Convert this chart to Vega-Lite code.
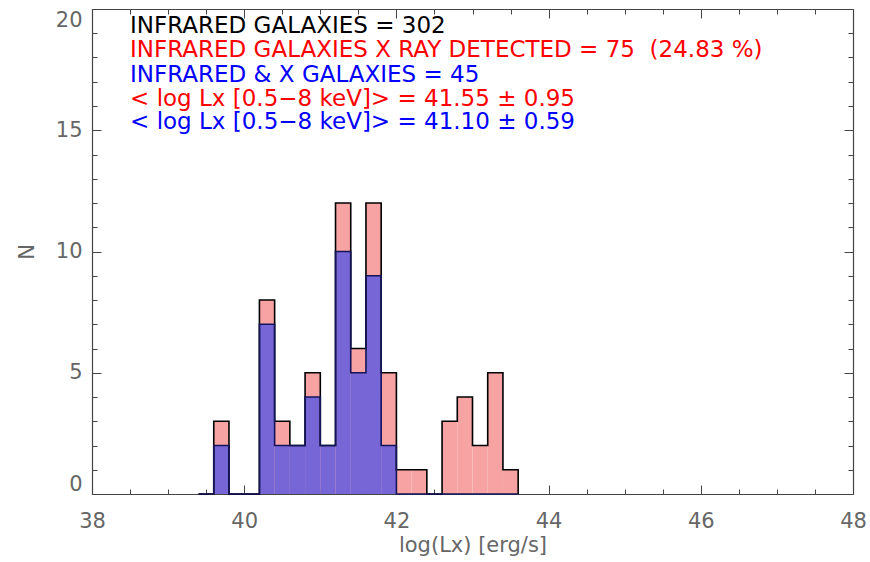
{
  "$schema": "https://vega.github.io/schema/vega-lite/v6.json",
  "width": 761,
  "height": 485,
  "autosize": {"type": "none"},
  "padding": {"left": 92, "top": 9, "right": 17, "bottom": 68},
  "background": "white",
  "config": {
    "view": {"stroke": null},
    "axis": {"grid": false, "domainColor": "#444444", "tickColor": "#444444", "labelColor": "#666666", "titleColor": "#666666", "labelFont": "DejaVu Sans", "titleFont": "DejaVu Sans", "labelFontSize": 21, "titleFontSize": 21, "titleFontWeight": "normal", "domainWidth": 1.2, "tickWidth": 1}
  },
  "data": {"values": [
    {"lo": 39.4, "hi": 39.6, "all": 0, "ir": 0},
    {"lo": 39.6, "hi": 39.8, "all": 3, "ir": 2},
    {"lo": 39.8, "hi": 40.0, "all": 0, "ir": 0},
    {"lo": 40.0, "hi": 40.2, "all": 0, "ir": 0},
    {"lo": 40.2, "hi": 40.4, "all": 8, "ir": 7},
    {"lo": 40.4, "hi": 40.6, "all": 3, "ir": 2},
    {"lo": 40.6, "hi": 40.8, "all": 2, "ir": 2},
    {"lo": 40.8, "hi": 41.0, "all": 5, "ir": 4},
    {"lo": 41.0, "hi": 41.2, "all": 2, "ir": 2},
    {"lo": 41.2, "hi": 41.4, "all": 12, "ir": 10},
    {"lo": 41.4, "hi": 41.6, "all": 6, "ir": 5},
    {"lo": 41.6, "hi": 41.8, "all": 12, "ir": 9},
    {"lo": 41.8, "hi": 42.0, "all": 5, "ir": 2},
    {"lo": 42.0, "hi": 42.2, "all": 1, "ir": 0},
    {"lo": 42.2, "hi": 42.4, "all": 1, "ir": 0},
    {"lo": 42.4, "hi": 42.6, "all": 0, "ir": 0},
    {"lo": 42.6, "hi": 42.8, "all": 3, "ir": 0},
    {"lo": 42.8, "hi": 43.0, "all": 4, "ir": 0},
    {"lo": 43.0, "hi": 43.2, "all": 2, "ir": 0},
    {"lo": 43.2, "hi": 43.4, "all": 5, "ir": 0},
    {"lo": 43.4, "hi": 43.6, "all": 1, "ir": 0},
    {"lo": 43.6, "hi": 43.8, "all": 0, "ir": 0}
  ]},
  "resolve": {"axis": {"x": "independent", "y": "independent"}},
  "layer": [
    {
      "mark": {"type": "rect", "fill": "#f7a3a3", "stroke": null},
      "encoding": {
        "x": {"field": "lo", "type": "quantitative", "scale": {"domain": [38, 48], "nice": false, "zero": false},
              "axis": {"orient": "bottom", "values": [38, 40, 42, 44, 46, 48], "tickSize": -9, "labelPadding": 25, "title": "log(Lx) [erg/s]", "titlePadding": 3, "labelFlush": false}},
        "x2": {"field": "hi"},
        "y": {"field": "all", "type": "quantitative", "scale": {"domain": [0, 20], "nice": false},
              "axis": {"orient": "left", "values": [0, 5, 10, 15, 20], "tickSize": -9, "labelPadding": 19, "title": "N", "titlePadding": 18, "labelFlush": true}},
        "y2": {"datum": 0}
      }
    },
    {
      "mark": {"type": "rect", "fill": "#7766d6", "stroke": null},
      "encoding": {
        "x": {"field": "lo", "type": "quantitative", "axis": {"orient": "top", "values": [38, 40, 42, 44, 46, 48], "tickSize": -9, "labels": false, "title": null}},
        "x2": {"field": "hi"},
        "y": {"field": "ir", "type": "quantitative", "axis": {"orient": "right", "values": [0, 5, 10, 15, 20], "tickSize": -9, "labels": false, "title": null}},
        "y2": {"datum": 0}
      }
    },
    {
      "mark": {"type": "line", "interpolate": "step-after", "color": "#000000", "strokeWidth": 1.6},
      "encoding": {
        "x": {"field": "lo", "type": "quantitative", "axis": {"orient": "bottom", "values": [38.5, 39, 39.5, 40.5, 41, 41.5, 42.5, 43, 43.5, 44.5, 45, 45.5, 46.5, 47, 47.5], "tickSize": -5, "labels": false, "title": null, "domain": false}},
        "y": {"field": "all", "type": "quantitative", "axis": {"orient": "left", "values": [1, 2, 3, 4, 6, 7, 8, 9, 11, 12, 13, 14, 16, 17, 18, 19], "tickSize": -5, "labels": false, "title": null, "domain": false}}
      }
    },
    {
      "mark": {"type": "line", "interpolate": "step-after", "color": "#14145a", "strokeWidth": 1.6},
      "encoding": {
        "x": {"field": "lo", "type": "quantitative", "axis": {"orient": "top", "values": [38.5, 39, 39.5, 40.5, 41, 41.5, 42.5, 43, 43.5, 44.5, 45, 45.5, 46.5, 47, 47.5], "tickSize": -5, "labels": false, "title": null, "domain": false}},
        "y": {"field": "ir", "type": "quantitative", "axis": {"orient": "right", "values": [1, 2, 3, 4, 6, 7, 8, 9, 11, 12, 13, 14, 16, 17, 18, 19], "tickSize": -5, "labels": false, "title": null, "domain": false}}
      }
    },
    {
      "data": {"values": [{"label": "INFRARED GALAXIES = 302"}]},
      "mark": {"type": "text", "align": "left", "baseline": "middle", "font": "DejaVu Sans", "fontSize": 23, "color": "#000000"},
      "encoding": {"x": {"datum": 38.5, "type": "quantitative", "axis": null}, "y": {"datum": 19.28, "type": "quantitative", "axis": null}, "text": {"field": "label"}}
    },
    {
      "data": {"values": [{"label": "INFRARED GALAXIES X RAY DETECTED = 75\u00a0\u00a0(24.83 %)"}]},
      "mark": {"type": "text", "align": "left", "baseline": "middle", "font": "DejaVu Sans", "fontSize": 23, "color": "#ff0000"},
      "encoding": {"x": {"datum": 38.5, "type": "quantitative", "axis": null}, "y": {"datum": 18.29, "type": "quantitative", "axis": null}, "text": {"field": "label"}}
    },
    {
      "data": {"values": [{"label": "INFRARED & X GALAXIES = 45"}]},
      "mark": {"type": "text", "align": "left", "baseline": "middle", "font": "DejaVu Sans", "fontSize": 23, "color": "#0000ff"},
      "encoding": {"x": {"datum": 38.5, "type": "quantitative", "axis": null}, "y": {"datum": 17.29, "type": "quantitative", "axis": null}, "text": {"field": "label"}}
    },
    {
      "data": {"values": [{"label": "< log Lx [0.5−8 keV]> = 41.55 ± 0.95"}]},
      "mark": {"type": "text", "align": "left", "baseline": "middle", "font": "DejaVu Sans", "fontSize": 23, "color": "#ff0000"},
      "encoding": {"x": {"datum": 38.5, "type": "quantitative", "axis": null}, "y": {"datum": 16.3, "type": "quantitative", "axis": null}, "text": {"field": "label"}}
    },
    {
      "data": {"values": [{"label": "< log Lx [0.5−8 keV]> = 41.10 ± 0.59"}]},
      "mark": {"type": "text", "align": "left", "baseline": "middle", "font": "DejaVu Sans", "fontSize": 23, "color": "#0000ff"},
      "encoding": {"x": {"datum": 38.5, "type": "quantitative", "axis": null}, "y": {"datum": 15.32, "type": "quantitative", "axis": null}, "text": {"field": "label"}}
    }
  ]
}
